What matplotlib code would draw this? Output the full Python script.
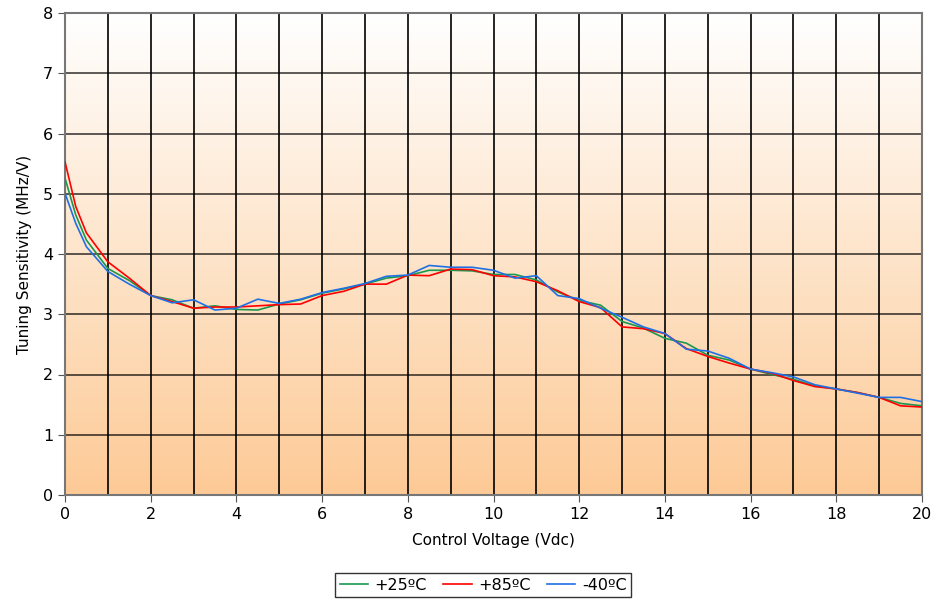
import numpy as np
import matplotlib
matplotlib.use("Agg")
import matplotlib.pyplot as plt
from matplotlib.colors import LinearSegmentedColormap

voltage = [0, 0.25, 0.5, 1, 1.5, 2, 2.5, 3, 3.5, 4, 4.5, 5, 5.5, 6, 6.5, 7, 7.5, 8,
           8.5, 9, 9.5, 10, 10.5, 11, 11.5, 12, 12.5, 13, 13.5, 14, 14.5, 15, 15.5,
           16, 16.5, 17, 17.5, 18, 18.5, 19, 19.5, 20]
t_plus25 = [5.26, 4.65, 4.23, 3.76, 3.56, 3.31, 3.24, 3.10, 3.14, 3.08, 3.07, 3.17, 3.24,
            3.35, 3.42, 3.50, 3.60, 3.64, 3.73, 3.73, 3.72, 3.66, 3.66, 3.57, 3.37, 3.23,
            3.15, 2.88, 2.77, 2.60, 2.52, 2.32, 2.24, 2.09, 2.00, 1.92, 1.81, 1.76, 1.70,
            1.62, 1.52, 1.48]
t_plus85 = [5.53, 4.79, 4.35, 3.87, 3.60, 3.31, 3.21, 3.10, 3.12, 3.12, 3.14, 3.16, 3.17,
            3.31, 3.38, 3.50, 3.50, 3.65, 3.64, 3.75, 3.74, 3.64, 3.62, 3.54, 3.39, 3.21,
            3.11, 2.79, 2.76, 2.68, 2.43, 2.30, 2.19, 2.09, 2.02, 1.90, 1.80, 1.76, 1.70,
            1.62, 1.48, 1.46]
t_minus40 = [5.01, 4.51, 4.12, 3.71, 3.50, 3.31, 3.19, 3.24, 3.07, 3.10, 3.25, 3.18, 3.25,
             3.36, 3.43, 3.51, 3.63, 3.65, 3.81, 3.78, 3.78, 3.73, 3.60, 3.64, 3.31, 3.26,
             3.10, 2.95, 2.79, 2.68, 2.42, 2.39, 2.27, 2.09, 2.03, 1.96, 1.83, 1.76, 1.69,
             1.62, 1.62, 1.55]
series_labels = ["+25ºC", "+85ºC", "-40ºC"]
series_colors = ["#1a9850", "#ff0000", "#1f6fe5"]

fig = plt.figure(figsize=(9.38, 6.01), dpi=100)
ax = fig.add_axes([65/938, 1-495/601, (922-65)/938, (495-13)/601])

cmap = LinearSegmentedColormap.from_list("bg", ["#fdca96", "#ffffff"])
grad = np.linspace(0, 1, 256).reshape(-1, 1)
ax.imshow(grad, aspect="auto", cmap=cmap, extent=[0, 20, 0, 8], origin="lower", zorder=0)

for v in range(0, 21):
    ax.axvline(v, color="black", lw=1.2, zorder=1)
for h in range(0, 9):
    ax.axhline(h, color="black", lw=1.2, zorder=1, alpha=0.75)

for vals, lab, col in zip([t_plus25, t_plus85, t_minus40], series_labels, series_colors):
    ax.plot(voltage, vals, color=col, lw=1.2, label=lab, zorder=3)

ax.set_xlim(0, 20)
ax.set_ylim(0, 8)
ax.set_xticks(range(0, 21, 2))
ax.set_yticks(range(0, 9))
ax.tick_params(labelsize=11.5, direction="out", length=5, color="#555555")
for s in ax.spines.values():
    s.set_color("#777777")
    s.set_linewidth(1.5)

ax.set_xlabel("Control Voltage (Vdc)", fontsize=11, labelpad=8)
ax.set_ylabel("Tuning Sensitivity (MHz/V)", fontsize=11, labelpad=8)

leg = fig.legend(loc="center", bbox_to_anchor=(483/938, 1-585/601), ncol=3,
                 fontsize=11.5, frameon=True, fancybox=False, handlelength=1.8,
                 handletextpad=0.4, columnspacing=1.0, borderpad=0.3)
leg.get_frame().set_edgecolor("black")
leg.get_frame().set_linewidth(1.0)

fig.savefig("out.png", dpi=100)
